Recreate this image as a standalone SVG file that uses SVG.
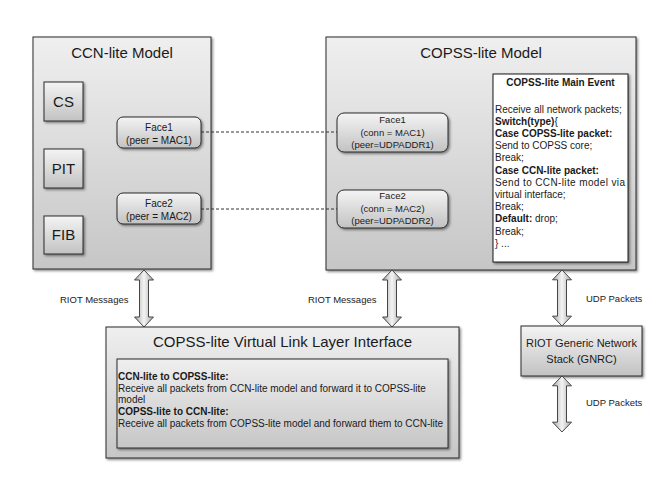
<svg xmlns="http://www.w3.org/2000/svg" width="664" height="498" viewBox="0 0 664 498">
  <defs>
    <linearGradient id="gBox" x1="0" y1="0" x2="0" y2="1">
      <stop offset="0" stop-color="#efefef"/>
      <stop offset="1" stop-color="#c6c6c6"/>
    </linearGradient>
    <linearGradient id="gSmall" x1="0" y1="0" x2="0" y2="1">
      <stop offset="0" stop-color="#f4f4f4"/>
      <stop offset="1" stop-color="#c2c2c2"/>
    </linearGradient>
    <linearGradient id="gArrow" x1="0" y1="0" x2="1" y2="0">
      <stop offset="0" stop-color="#a8a8a8"/>
      <stop offset="0.5" stop-color="#f4f4f4"/>
      <stop offset="1" stop-color="#a8a8a8"/>
    </linearGradient>
    <filter id="sh" x="-10%" y="-10%" width="130%" height="130%">
      <feDropShadow dx="1.5" dy="1.5" stdDeviation="1" flood-color="#000" flood-opacity="0.45"/>
    </filter>
    <path id="dArrow" d="M0,0 L9.5,10 L4.5,10 L4.5,47 L9.5,47 L0,57 L-9.5,47 L-4.5,47 L-4.5,10 L-9.5,10 Z"/>
  </defs>
  <style>
    text { font-family: "Liberation Sans", Arial, sans-serif; fill: #1a1a1a; }
    .big { fill: url(#gBox); stroke: #2a2a2a; stroke-width: 1; filter: url(#sh); }
    .small { fill: url(#gSmall); stroke: #2a2a2a; stroke-width: 1; filter: url(#sh); }
    .title { font-size: 15px; text-anchor: middle; }
    .face { font-size: 10px; text-anchor: middle; }
    .facer { font-size: 9.5px; text-anchor: middle; }
    .ev { font-size: 10px; }
    .b { font-weight: bold; }
    .lbl { font-size: 9.5px; }
    .dash { stroke: #333; stroke-width: 1; stroke-dasharray: 3 2; fill: none; }
    .arr { fill: url(#gArrow); stroke: #444; stroke-width: 1; }
  </style>
  <rect width="664" height="498" fill="#fff"/>

  <g id="ccn-model">
    <rect class="big" x="33" y="37" width="178" height="232"/>
    <text class="title" x="122" y="58">CCN-lite Model</text>
  </g>
  <g id="cs">
    <rect class="small" x="44" y="82" width="39" height="39"/>
    <text class="title" x="63.5" y="107">CS</text>
  </g>
  <g id="pit">
    <rect class="small" x="44" y="149" width="39" height="39"/>
    <text class="title" x="63.5" y="174">PIT</text>
  </g>
  <g id="fib">
    <rect class="small" x="44" y="216" width="39" height="38"/>
    <text class="title" x="63.5" y="240">FIB</text>
  </g>
  <g id="ccn-face1">
    <rect class="small" x="117" y="117" width="84" height="31" rx="6"/>
    <text class="face" x="159" y="131">Face1</text>
    <text class="face" x="159" y="144">(peer = MAC1)</text>
  </g>
  <g id="ccn-face2">
    <rect class="small" x="117" y="193" width="84" height="31" rx="6"/>
    <text class="face" x="159" y="207">Face2</text>
    <text class="face" x="159" y="220">(peer = MAC2)</text>
  </g>

  <g id="copss-model">
    <rect class="big" x="326" y="37" width="310" height="233"/>
    <text class="title" x="481" y="58">COPSS-lite Model</text>
  </g>
  <g id="copss-face1">
    <rect class="small" x="337" y="113" width="111" height="39" rx="7"/>
    <text class="facer" x="392.5" y="123">Face1</text>
    <text class="facer" x="392.5" y="136">(conn = MAC1)</text>
    <text class="facer" x="392.5" y="148">(peer=UDPADDR1)</text>
  </g>
  <g id="copss-face2">
    <rect class="small" x="337" y="190" width="111" height="38" rx="7"/>
    <text class="facer" x="392.5" y="199">Face2</text>
    <text class="facer" x="392.5" y="212">(conn = MAC2)</text>
    <text class="facer" x="392.5" y="224">(peer=UDPADDR2)</text>
  </g>
  <g id="main-event">
    <rect x="493" y="74" width="135" height="188" fill="#fff" stroke="#1a1a1a" stroke-width="1" filter="url(#sh)"/>
    <text class="ev b" x="560.5" y="86" text-anchor="middle">COPSS-lite Main Event</text>
    <text class="ev" x="495" y="113">Receive all network packets;</text>
    <text class="ev b" x="495" y="125">Switch(type)<tspan font-weight="normal">{</tspan></text>
    <text class="ev b" x="495" y="137">Case COPSS-lite packet:</text>
    <text class="ev" x="495" y="149">Send to COPSS core;</text>
    <text class="ev" x="495" y="161">Break;</text>
    <text class="ev b" x="495" y="174">Case CCN-lite packet:</text>
    <text class="ev" x="495" y="186" textLength="130" lengthAdjust="spacing">Send to CCN-lite model via</text>
    <text class="ev" x="495" y="198">virtual interface;</text>
    <text class="ev" x="495" y="210">Break;</text>
    <text class="ev" x="495" y="222"><tspan font-weight="bold">Default:</tspan> drop;</text>
    <text class="ev" x="495" y="235">Break;</text>
    <text class="ev" x="495" y="247">} ...</text>
  </g>

  <g id="vlink">
    <rect class="big" x="106" y="327" width="353" height="131"/>
    <text class="title" x="282.5" y="347">COPSS-lite Virtual Link Layer Interface</text>
    <rect class="big" x="117" y="359" width="331" height="89"/>
    <text class="ev b" x="118" y="380" font-size="9.6">CCN-lite to COPSS-lite:</text>
    <text class="ev" x="118" y="392" font-size="9.6">Receive all packets from CCN-lite model and forward it to COPSS-lite</text>
    <text class="ev" x="118" y="403" font-size="9.6">model</text>
    <text class="ev b" x="118" y="415" font-size="9.6">COPSS-lite to CCN-lite:</text>
    <text class="ev" x="118" y="427" font-size="9.6">Receive all packets from COPSS-lite model and forward them to CCN-lite</text>
  </g>

  <g id="gnrc">
    <rect class="small" x="521" y="326" width="121" height="50"/>
    <text x="581.5" y="347" font-size="11" text-anchor="middle">RIOT Generic Network</text>
    <text x="581.5" y="363" font-size="11" text-anchor="middle">Stack (GNRC)</text>
  </g>

  <g id="connectors">
    <line class="dash" x1="201" y1="132" x2="337" y2="132"/>
    <line class="dash" x1="201" y1="209" x2="337" y2="209"/>
    <use href="#dArrow" class="arr" transform="translate(144,270)"/>
    <use href="#dArrow" class="arr" transform="translate(392,270)"/>
    <use href="#dArrow" class="arr" transform="translate(562,270) scale(1,0.982)"/>
    <use href="#dArrow" class="arr" transform="translate(562,376) scale(1,0.982)"/>
    <text class="lbl" x="60" y="303">RIOT Messages</text>
    <text class="lbl" x="308" y="303">RIOT Messages</text>
    <text class="lbl" x="586" y="302">UDP Packets</text>
    <text class="lbl" x="586" y="406">UDP Packets</text>
  </g>
</svg>
